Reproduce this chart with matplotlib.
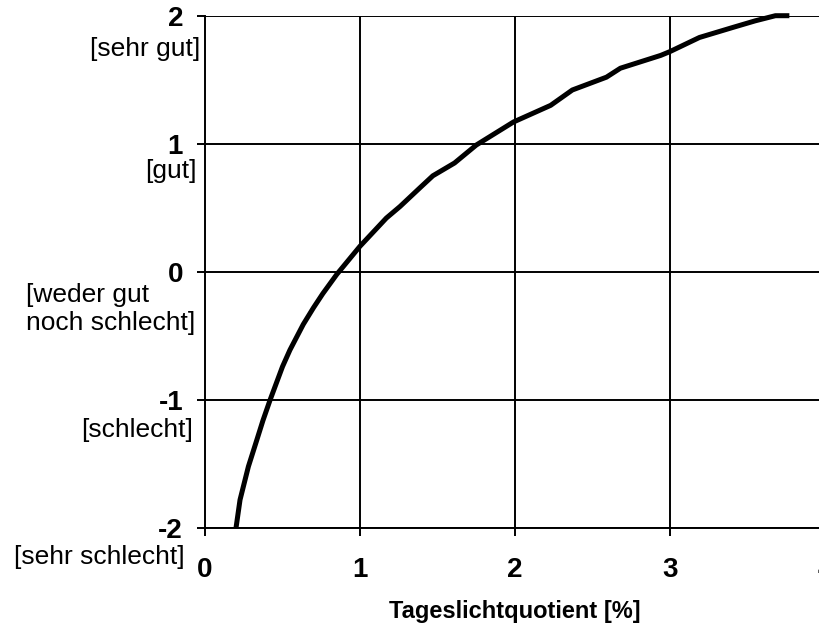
import matplotlib.pyplot as plt

# Daten
tq = [0.20, 0.226, 0.28, 0.335, 0.374, 0.42, 0.50, 0.548, 0.634, 0.70, 0.76, 0.85,
      1.0, 1.17, 1.258, 1.39, 1.47, 1.61, 1.70, 1.75, 1.99, 2.23, 2.37, 2.59,
      2.68, 2.94, 3.0, 3.19, 3.41, 3.55, 3.68, 3.77]
bewertung = [-2.0, -1.78, -1.52, -1.31, -1.16, -1.0, -0.74, -0.61, -0.41, -0.28, -0.17, -0.02,
             0.20, 0.42, 0.51, 0.66, 0.75, 0.85, 0.94, 0.99, 1.17, 1.30, 1.42, 1.52,
             1.59, 1.69, 1.72, 1.83, 1.91, 1.96, 2.0, 2.0]

x_ticks = [0, 1, 2, 3, 4]
y_ticks = [2, 1, 0, -1, -2]
y_words = ["[sehr gut]", "[gut]", "[weder gut\nnoch schlecht]", "[schlecht]", "[sehr schlecht]"]
# Versatz der Worte (Pixel) relativ zum Tick
word_off = [(-5, -33), (-8, -27), (-10, -37), (-12, -30), (-20, -29)]

plt.rcParams['font.family'] = ['Liberation Sans', 'DejaVu Sans']

fig = plt.figure(figsize=(8.2, 6.3), dpi=100)
ax = fig.add_axes([205 / 820, 102 / 630, 620 / 820, 512.3 / 630])

# Gitter
for yv in y_ticks:
    ax.axhline(yv, color='k', linewidth=1.4, zorder=1)
for xv in x_ticks[1:]:
    ax.axvline(xv, color='k', linewidth=1.4, zorder=1)

ax.plot(tq, bewertung, color='k', linewidth=3.6, solid_capstyle='butt',
        solid_joinstyle='round', zorder=3, clip_on=False)

ax.set_xlim(0, 4)
ax.set_ylim(-2, 2)
ax.set_xticks(x_ticks)
ax.set_xticklabels([str(v) for v in x_ticks], fontsize=20, fontweight='bold')
ax.set_yticks(y_ticks)
ax.set_yticklabels([str(v) for v in y_ticks], fontsize=20, fontweight='bold')
ax.tick_params(axis='both', direction='out', length=5.8, width=1.4, color='k')
ax.tick_params(axis='y', pad=10)
ax.tick_params(axis='x', pad=15)

for s in ['top', 'right']:
    ax.spines[s].set_visible(False)
for s in ['left', 'bottom']:
    ax.spines[s].set_linewidth(1.4)

for yv, w, off in zip(y_ticks, y_words, word_off):
    ax.annotate(w, xy=(0, yv), xycoords=('axes fraction', 'data'),
                xytext=off, textcoords='offset pixels',
                ha='right', va='center', multialignment='left',
                fontsize=19, annotation_clip=False)

ax.set_xlabel('Tageslichtquotient [%]', fontsize=17, fontweight='bold', labelpad=12)

fig.savefig('out.png', dpi=100)
